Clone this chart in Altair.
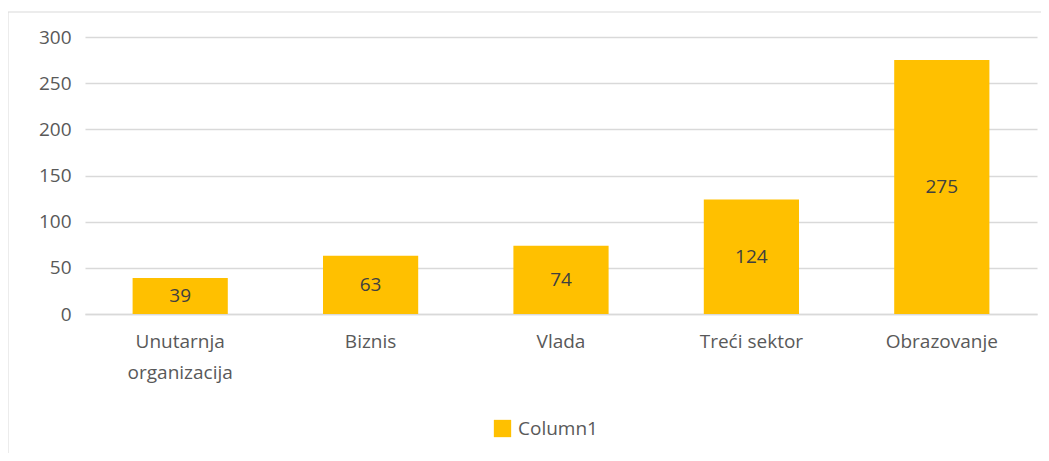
import altair as alt
import pandas as pd

categories = ["Unutarnja organizacija", "Biznis", "Vlada", "Treći sektor", "Obrazovanje"]
values = [39, 63, 74, 124, 275]
series_name = "Column1"

df = pd.DataFrame({"category": categories, "value": values, "series": [series_name] * len(values)})

FONT = "Open Sans"
GRID = "#d9d9d9"
TEXT = "#595959"

x_enc = alt.X(
    "category:N",
    sort=categories,
    title=None,
    scale=alt.Scale(paddingInner=0.5, paddingOuter=0.25),
    axis=alt.Axis(
        labelAngle=0,
        labelFont=FONT,
        labelFontSize=19,
        labelColor=TEXT,
        labelPadding=18,
        labelLineHeight=31,
        labelBaseline="top",
        ticks=False,
        grid=False,
        domainColor=GRID,
        domainWidth=1.5,
        labelExpr="datum.label == 'Unutarnja organizacija' ? ['Unutarnja', 'organizacija'] : datum.label",
    ),
)

y_enc = alt.Y(
    "value:Q",
    title=None,
    scale=alt.Scale(domain=[0, 300]),
    axis=alt.Axis(
        values=[0, 50, 100, 150, 200, 250, 300],
        labelFont=FONT,
        labelFontSize=19,
        labelColor=TEXT,
        labelPadding=14,
        ticks=False,
        domain=False,
        gridColor=GRID,
        gridWidth=1.5,
    ),
)

bars = alt.Chart(df).mark_bar(color="#FFC000").encode(
    x=x_enc,
    y=y_enc,
    color=alt.Color(
        "series:N",
        scale=alt.Scale(range=["#FFC000"]),
        legend=alt.Legend(
            title=None,
            orient="none",
            legendX=408,
            legendY=382,
            symbolType="square",
            symbolSize=300,
            symbolStrokeWidth=0,
            labelFont=FONT,
            labelFontSize=19,
            labelColor=TEXT,
            labelOffset=6,
        ),
    ),
)

labels = alt.Chart(df).transform_calculate(half="datum.value / 2").mark_text(
    font=FONT, fontSize=19, color="#404040", baseline="middle"
).encode(
    x=alt.X("category:N", sort=categories),
    y=alt.Y("half:Q"),
    text=alt.Text("value:Q"),
)

top_edge = alt.Chart(df.head(1)).mark_rule(color="#d9d9d9", strokeWidth=1, clip=False).encode(
    x=alt.value(-77), x2=alt.value(1200), y=alt.value(-25)
)
left_edge = alt.Chart(df.head(1)).mark_rule(color="#d9d9d9", strokeWidth=1, clip=False).encode(
    x=alt.value(-77), y=alt.value(-25), y2=alt.value(600)
)

chart = alt.layer(top_edge, left_edge, bars, labels).properties(
    width=952,
    height=277,
    background="white",
    autosize=alt.AutoSizeParams(type="none"),
    padding={"left": 77, "top": 29, "right": 4, "bottom": 139},
).configure_view(strokeWidth=0)

chart.save("out.html", embed_options={"renderer": "svg", "actions": False})
